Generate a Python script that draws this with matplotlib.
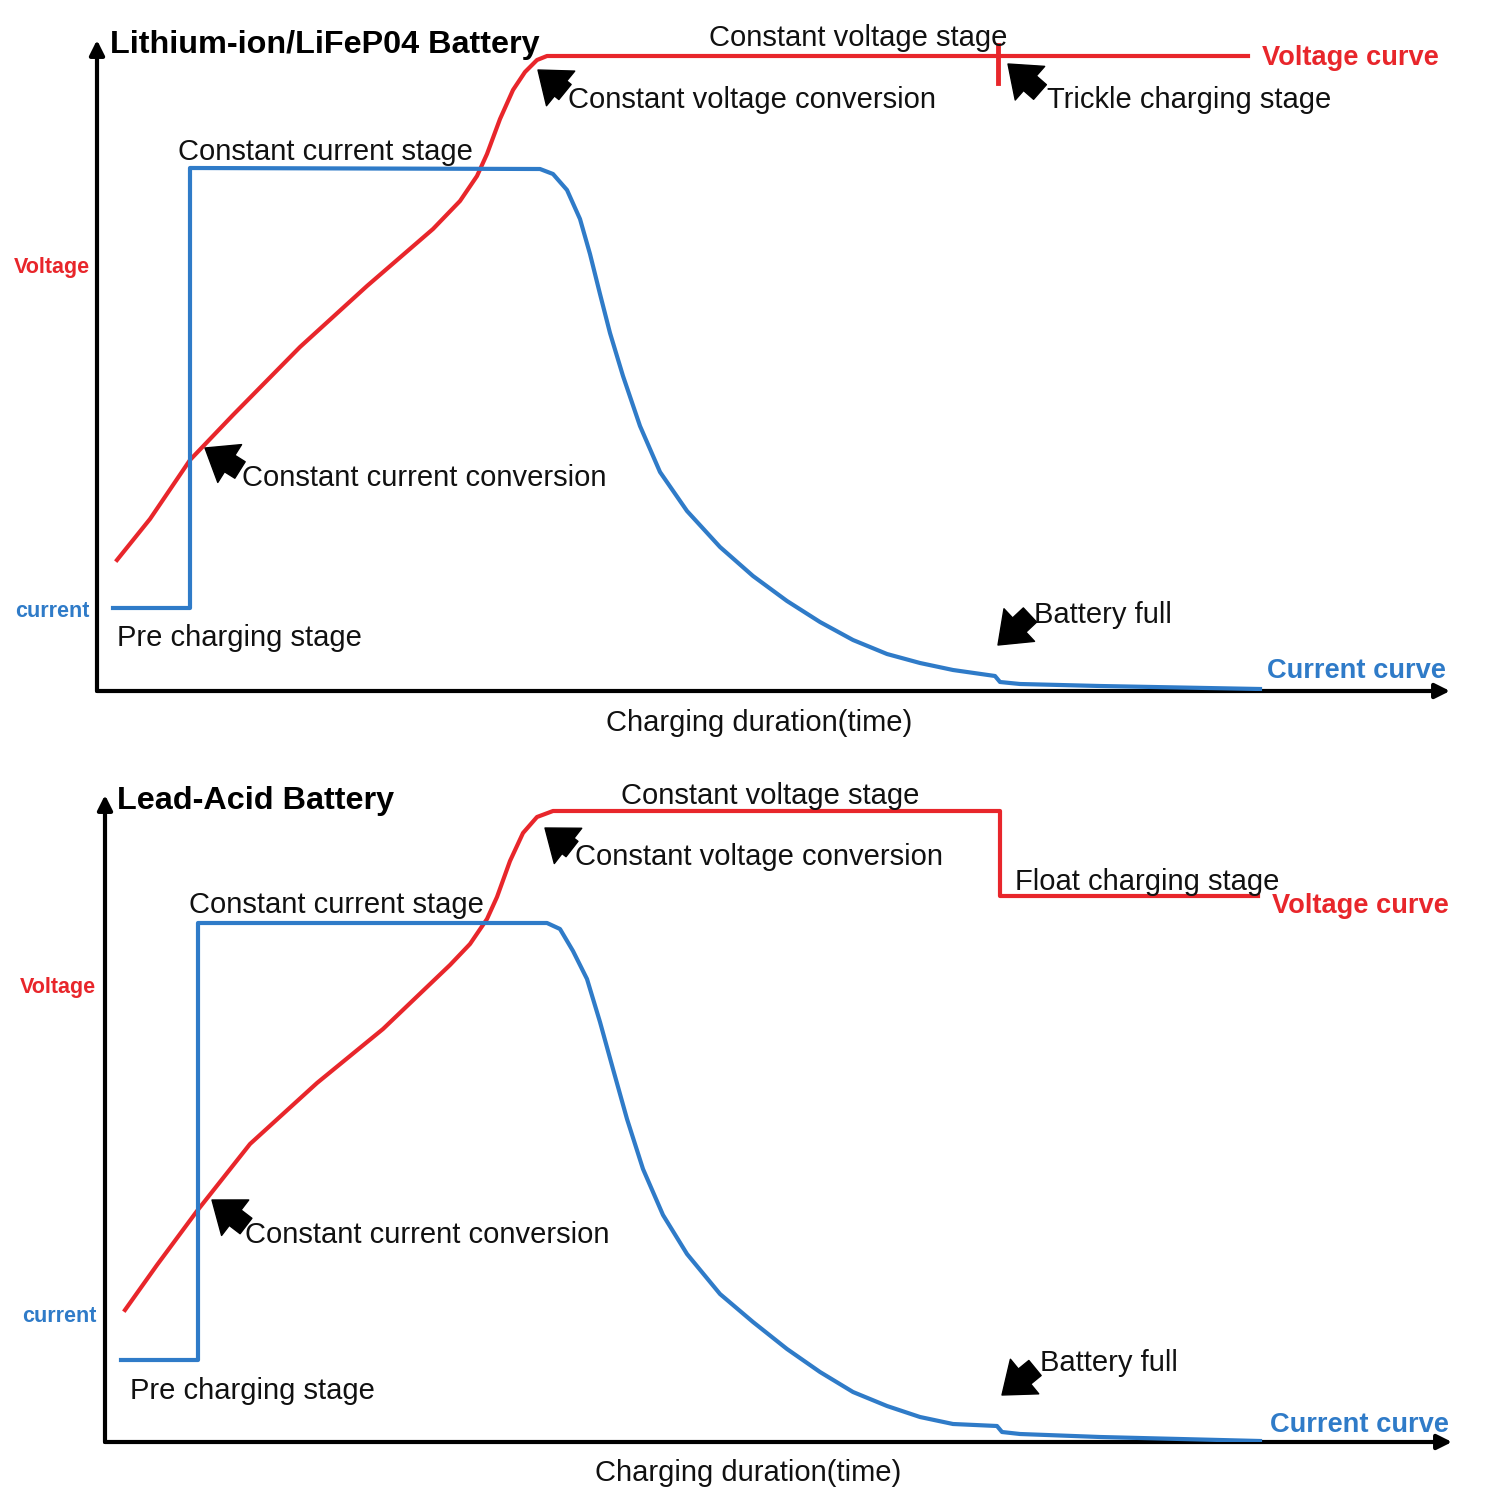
import matplotlib
matplotlib.use('Agg')
import matplotlib.pyplot as plt

plt.rcParams['font.family'] = ['Liberation Sans', 'DejaVu Sans']

RED = '#e8262b'
BLUE = '#2f7bc8'

# --- data: (time, level), per panel ---
# Lithium-ion / LiFePO4
li_current_t = [16, 93, 93, 443, 456, 470, 483, 493, 503, 513, 526, 543, 563, 590, 623, 656,
                690, 723, 756, 790, 823, 856, 898, 903, 923, 1003, 1163]
li_current_v = [83, 83, 523, 522, 517, 501, 472, 437, 397, 358, 315, 265, 219, 180, 144, 115,
                90, 69, 51, 37, 28, 21, 15, 9, 7, 5, 2]
li_voltage_t = [20, 53, 93, 136, 203, 270, 336, 363, 380, 390, 403, 416, 428, 440, 450, 1151]
li_voltage_v = [131, 172, 231, 276, 344, 405, 462, 490, 515, 537, 572, 601, 619, 631, 635, 635]
li_trickle_t = 901

# Lead-acid
pb_current_t = [16, 93, 93, 442, 455, 468, 482, 495, 508, 522, 538, 558, 582, 615, 648, 682,
                715, 748, 782, 815, 848, 892, 897, 915, 995, 1155]
pb_current_v = [82, 82, 519, 519, 513, 491, 463, 420, 373, 323, 273, 227, 188, 148, 120, 93,
                70, 50, 36, 25, 18, 16, 10, 8, 5, 1]
pb_voltage_t = [20, 52, 92, 145, 212, 278, 345, 365, 382, 392, 405, 418, 432, 448, 895, 895, 1153]
pb_voltage_v = [132, 177, 231, 298, 359, 413, 477, 498, 523, 545, 581, 609, 625, 631, 631, 546, 546]

# --- layout ---
W = 1500.0
panels = [
    dict(origin=(97, 691), size=(1353, 651),
         title='Lithium-ion/LiFeP04 Battery', title_pos=(13, 649),
         cur=(li_current_t, li_current_v), vol=(li_voltage_t, li_voltage_v),
         texts=[
             ('Constant voltage stage', 761, 656, 'center'),
             ('Constant voltage conversion', 471, 594, 'left'),
             ('Trickle charging stage', 950, 594, 'left'),
             ('Constant current stage', 81, 542, 'left'),
             ('Constant current conversion', 145, 216, 'left'),
             ('Pre charging stage', 20, 56, 'left'),
             ('Battery full', 937, 79, 'left'),
         ],
         arrows=[((468, 599), (441, 621)), ((943, 599), (911, 627)),
                 ((143, 221), (108, 243)), ((933, 76), (901, 46))],
         vcurve=(1165, 636), ccurve=(1349, 23), xlabel=(662, -29),
         vlab=(-7, 426), clab=(-7, 82)),
    dict(origin=(105, 1442), size=(1347, 647),
         title='Lead-Acid Battery', title_pos=(12, 645),
         cur=(pb_current_t, pb_current_v), vol=(pb_voltage_t, pb_voltage_v),
         texts=[
             ('Constant voltage stage', 665, 649, 'center'),
             ('Constant voltage conversion', 470, 588, 'left'),
             ('Float charging stage', 910, 563, 'left'),
             ('Constant current stage', 84, 540, 'left'),
             ('Constant current conversion', 140, 210, 'left'),
             ('Pre charging stage', 25, 54, 'left'),
             ('Battery full', 935, 82, 'left'),
         ],
         arrows=[((467, 593), (440, 614)), ((141, 216), (107, 242)),
                 ((930, 74), (897, 47))],
         vcurve=(1167, 539), ccurve=(1344, 20), xlabel=(643, -28),
         vlab=(-9, 457), clab=(-9, 128)),
]

fig = plt.figure(figsize=(15, 15), dpi=100)

for i, p in enumerate(panels):
    ox, oy = p['origin']
    w, h = p['size']
    ax = fig.add_axes([ox / W, (W - oy) / W, w / W, h / W])
    ax.set_xlim(0, w)
    ax.set_ylim(0, h)
    ax.axis('off')

    # axes with arrow heads
    ax.annotate('', xy=(w, 0), xytext=(0, 0),
                arrowprops=dict(arrowstyle='-|>', lw=3.0, color='black',
                                mutation_scale=22, shrinkA=0, shrinkB=0))
    ax.annotate('', xy=(0, h), xytext=(0, 0),
                arrowprops=dict(arrowstyle='-|>', lw=3.0, color='black',
                                mutation_scale=22, shrinkA=0, shrinkB=0))

    ax.plot(*p['vol'], color=RED, lw=3, solid_joinstyle='round', zorder=3)
    ax.plot(*p['cur'], color=BLUE, lw=3, solid_joinstyle='round', zorder=4)
    if i == 0:
        ax.plot([li_trickle_t, li_trickle_t], [608, 646], color=RED, lw=3.5, zorder=3)

    ax.text(*p['title_pos'], p['title'], fontsize=23.3, fontweight='bold',
            ha='left', va='center_baseline')
    for s, x, y, ha in p['texts']:
        ax.text(x, y, s, fontsize=21, ha=ha, va='center_baseline', color='#111111')
    for tail, head in p['arrows']:
        ax.annotate('', xy=head, xytext=tail,
                    arrowprops=dict(arrowstyle='simple,head_length=0.75,head_width=1.15,tail_width=0.5',
                                    mutation_scale=28, fc='black', ec='black',
                                    shrinkA=0, shrinkB=0))
    ax.text(*p['vcurve'], 'Voltage curve', fontsize=19.6, fontweight='bold',
            color=RED, ha='left', va='center_baseline')
    ax.text(*p['ccurve'], 'Current curve', fontsize=19.6, fontweight='bold',
            color=BLUE, ha='right', va='center_baseline')
    ax.text(*p['xlabel'], 'Charging duration(time)', fontsize=21,
            ha='center', va='center_baseline', color='#111111')
    ax.text(*p['vlab'], 'Voltage', fontsize=15.5, fontweight='bold',
            color=RED, ha='right', va='center_baseline')
    ax.text(*p['clab'], 'current', fontsize=15.5, fontweight='bold',
            color=BLUE, ha='right', va='center_baseline')

fig.savefig('out.png', dpi=100, facecolor='white')
plt.close(fig)
